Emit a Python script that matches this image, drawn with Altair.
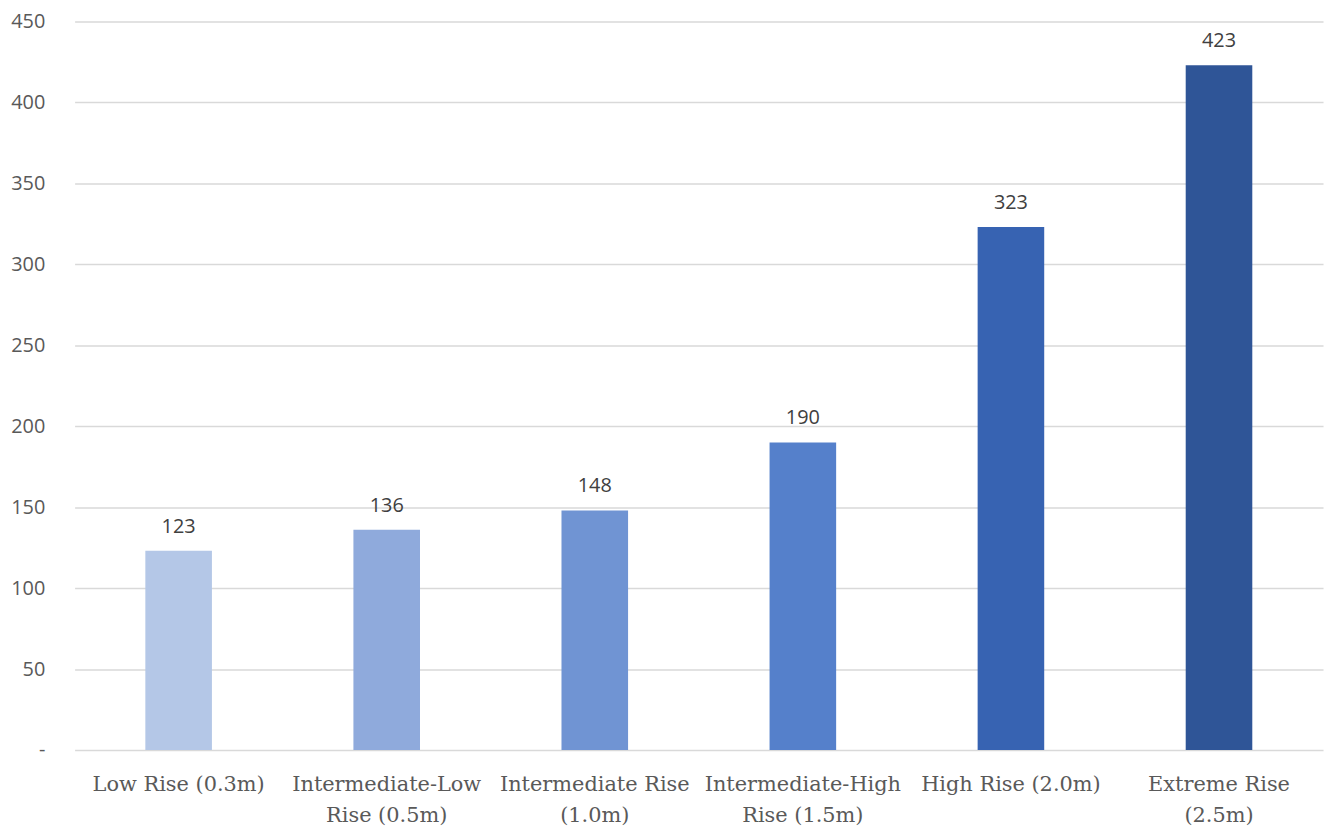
import altair as alt
import pandas as pd

categories = ["Low Rise (0.3m)", "Intermediate-Low|Rise (0.5m)", "Intermediate Rise|(1.0m)",
              "Intermediate-High|Rise (1.5m)", "High Rise (2.0m)", "Extreme Rise|(2.5m)"]
values = [123, 136, 148, 190, 323, 423]
colors = ["#b4c7e7", "#8faadc", "#7094d3", "#5580cb", "#3763b2", "#2f5597"]

df = pd.DataFrame({"cat": categories, "val": values})

x = alt.X("cat:N", sort=categories, title=None,
          scale=alt.Scale(paddingInner=0.68, paddingOuter=0.34),
          axis=alt.Axis(labelExpr="split(datum.label, '|')", labelAngle=0,
                        labelFont="DejaVu Serif", labelFontSize=21, labelColor="#595959",
                        labelLineHeight=31, labelPadding=24, labelBaseline="top",
                        ticks=False, domain=False, grid=False, labelLimit=300))
y = alt.Y("val:Q", title=None,
          scale=alt.Scale(domain=[0, 450], nice=False),
          axis=alt.Axis(values=list(range(0, 451, 50)),
                        labelExpr="datum.value == 0 ? '-' : datum.label",
                        labelFont="Open Sans", labelFontSize=20, labelColor="#595959",
                        labelPadding=30, ticks=False, domain=False,
                        grid=True, gridColor="#d9d9d9", gridWidth=1.5))

bars = alt.Chart(df).mark_bar().encode(
    x=x, y=y,
    color=alt.Color("cat:N", sort=categories, scale=alt.Scale(domain=categories, range=colors), legend=None),
)
labels = alt.Chart(df).mark_text(baseline="bottom", dy=-14, font="Open Sans", fontSize=20, color="#404040").encode(
    x=alt.X("cat:N", sort=categories), y="val:Q", text="val:Q"
)

chart = (bars + labels).properties(
    width=1256, height=733,
    background="white",
    autosize=alt.AutoSizeParams(type="none"),
    padding={"left": 67, "top": 11, "right": 6, "bottom": 80},
).configure_view(stroke=None)

chart.save("out.html", embed_options={"renderer": "svg", "actions": False})
